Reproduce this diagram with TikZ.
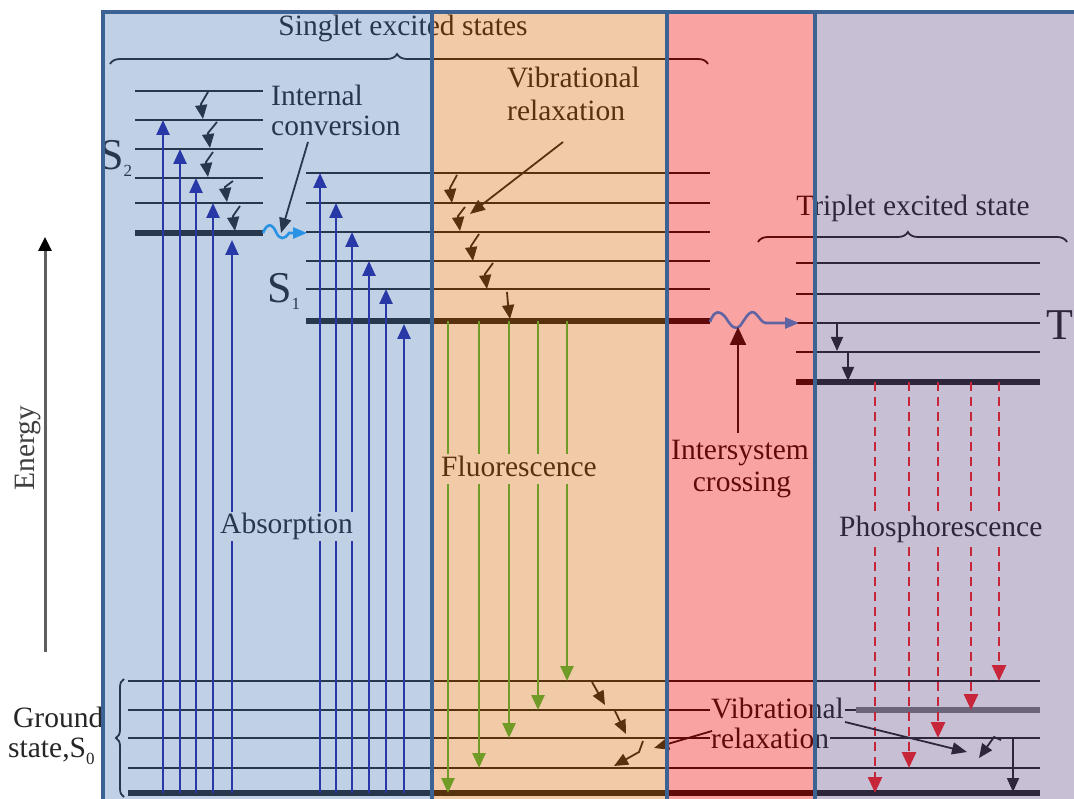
\documentclass[tikz,border=0pt]{standalone}
\usepackage{fontspec}
\setmainfont{Liberation Serif}
\usetikzlibrary{arrows.meta,decorations.pathreplacing}
\definecolor{pblue}{RGB}{102,140,192}
\definecolor{porange}{RGB}{222,125,37}
\definecolor{ppink}{RGB}{242,27,27}
\definecolor{plav}{RGB}{117,97,147}
\definecolor{bordc}{RGB}{60,98,148}
\definecolor{absb}{RGB}{0,0,150}
\definecolor{flg}{RGB}{40,175,40}
\definecolor{phr}{RGB}{255,0,0}
\definecolor{wavec}{RGB}{0,150,255}
\definecolor{egray}{RGB}{95,95,95}
\newcommand{\subsm}[1]{\raisebox{-7pt}{\fontsize{17}{17}\selectfont #1}}
\begin{document}
\begin{tikzpicture}[x=1pt,y=-1pt,
  lvl/.style={line width=2.9pt, black},
  lvlthick/.style={line width=5.5pt, black},
  absarrow/.style={absb, line width=2.5pt, -{Triangle[length=15pt,width=13pt]}},
  flarrow/.style={flg, line width=2.5pt, -{Triangle[length=15pt,width=13pt]}},
  pharrow/.style={phr, line width=2.8pt, dash pattern=on 9pt off 6pt, -{Triangle[length=16pt,width=14pt]}},
  vrarrow/.style={black, line width=1.8pt, -{Triangle[length=14pt,width=12pt]}},
  ptr/.style={black, line width=1.8pt, -{Triangle[length=15pt,width=12pt]}},
  wave/.style={wavec, line width=2.6pt, -{Triangle[length=14pt,width=11pt]}},
  lbl/.style={font=\fontsize{29.5}{34}\selectfont, inner sep=0pt, text height=21pt, text depth=6pt},
  lblbox/.style={lbl, fill=white, inner xsep=1pt, inner ysep=1pt},
  bigS/.style={font=\fontsize{44}{48}\selectfont, inner sep=0pt, anchor=base west},
  brc/.style={black, line width=1.8pt, decorate, decoration={brace, amplitude=10pt}},
  bord/.style={bordc, line width=4pt}
]
\useasboundingbox (0,0) rectangle (1074,799);
\fill[white] (0,0) rectangle (1074,799);

% Energy axis and ground-state label (outside panels)
\draw[egray, line width=3pt, -{Triangle[length=14pt,width=13pt,color=black]}] (45,652) -- (45,237);
\node[lbl, rotate=90, text=black!75] (energy) at (27,448) {Energy};
\node[lbl, anchor=west, text=black!85] (ground) at (13,720) {Ground};
\node[lbl, anchor=west, text=black!85] (state) at (8,750) {state,S\subsm{0}};

% Braces
\draw[brc, decoration={aspect=0.48}] (110,64) -- (708,64);
\draw[brc, decoration={aspect=0.485}] (758,242) -- (1067,242);
\draw[black, line width=1.8pt, decorate, decoration={brace, amplitude=8pt}] (124,797) -- (124,679);

% Titles
\node[lbl] (singlet) at (403,28) {Singlet excited states};
\node[lbl] (triplet) at (913,208) {Triplet excited state};
\node[lbl, anchor=west] (ic1) at (271,98) {Internal};
\node[lbl, anchor=west] (ic2) at (271,128) {conversion};
\node[lbl, anchor=west] (vr1) at (507,80) {Vibrational};
\node[lbl, anchor=west] (vr2) at (507,113) {relaxation};
\node[lbl] (isc1) at (740,452) {Intersystem};
\node[lbl] (isc2) at (742,484) {crossing};

% State labels
\node[bigS] (s2) at (99,170) {S\subsm{2}};
\node[bigS] (s1) at (267,303) {S\subsm{1}};
\node[bigS] (t1) at (1046,340) {T};

% S2 levels
\foreach \y in {91,120,149,178,203} \draw[lvl] (135,\y) -- (263,\y);
\draw[lvlthick] (135,233) -- (263,233);
% S1 levels
\foreach \y in {173,203,232,261,289} \draw[lvl] (306,\y) -- (710,\y);
\draw[lvlthick] (306,321) -- (710,321);
% T1 levels
\foreach \y in {263,294,323,352} \draw[lvl] (796,\y) -- (1040,\y);
\draw[lvlthick] (796,382) -- (1040,382);
% S0 levels
\foreach \y in {681,738,768} \draw[lvl] (128,\y) -- (1040,\y);
\draw[lvl] (128,710) -- (856,710);
\draw[line width=5.5pt, black!60] (856,710) -- (1040,710);
\draw[lvlthick] (128,793) -- (1040,793);

% Absorption arrows
\foreach \x/\t in {163/120,180/149,196/178,213/203,232/240,320/173,336/203,352/232,369/261,386/289,404/324}
  \draw[absarrow] (\x,793) -- (\x,\t);
% Fluorescence arrows
\foreach \x/\t in {448/793,479/768,509/738,538/710,567/681}
  \draw[flarrow] (\x,321) -- (\x,\t);
% Phosphorescence arrows
\foreach \x/\t in {875/793,909/768,938/738,971/710,999/681}
  \draw[pharrow] (\x,382) -- (\x,\t);

% Boxed labels
\node[lblbox, anchor=west] (abs) at (219,526) {Absorption};
\node[lblbox, anchor=west] (fl) at (440,469) {Fluorescence};
\node[lblbox, anchor=west, inner ysep=4pt] (ph) at (838,529) {Phosphorescence};
\node[lblbox, anchor=west] (bvr1) at (710,711) {Vibrational};
\node[lblbox, anchor=west] (bvr2) at (710,741) {relaxation};

% Vibrational relaxation arrows (S2)
\foreach \sx/\sy/\tx/\ty in {208/92/203/119, 217/122/210/148, 213/152/208/177, 233/181/227/202, 240/206/235/231}
  \draw[vrarrow] (\sx,\sy) -- (\tx-2,\ty-15) -- (\tx,\ty);
% Vibrational relaxation arrows (S1)
\foreach \sx/\sy/\tx/\ty in {457/175/452/203, 465/207/460/231, 479/234/473/261, 493/263/487/289, 507/292/510/319}
  \draw[vrarrow] (\sx,\sy) -- (\tx-2,\ty-15) -- (\tx,\ty);
% S0 relaxation arrows
\draw[vrarrow] (592,682) -- (605,705);
\draw[vrarrow] (615,711) -- (626,734);
\draw[vrarrow] (643,741) -- (639,752) -- (614,766);
\draw[vrarrow] (1001,740) -- (994,737) -- (979,758);
\draw[vrarrow] (1013,738) -- (1013,792);
% T1 relaxation arrows
\draw[vrarrow] (837,322) -- (837,351);
\draw[vrarrow] (848,352) -- (848,381);

% Wavy crossings
\draw[wave] (263,233) .. controls (267,223) and (272,223) .. (276,232)
  .. controls (280,241) and (285,239) .. (289,233) -- (307,233);
\draw[wave] (710,322) .. controls (714,310) and (720,310) .. (726,318)
  .. controls (732,328) and (736,330) .. (740,326)
  .. controls (746,318) and (750,308) .. (756,314)
  .. controls (760,318) and (762,323) .. (766,323) -- (799,323);

% Pointers
\draw[ptr] (308,142) -- (281,233);
\draw[ptr] (563,142) -- (470,214);
\draw[ptr] (712,731) -- (654,748);
\draw[ptr] (845,722) -- (967,752);
\draw[black, line width=2.4pt, -{Triangle[length=18pt,width=16pt]}] (738,433) -- (738,327);

% Translucent panels
\fill[pblue, fill opacity=0.4] (103,12) rectangle (432,799);
\fill[porange, fill opacity=0.4] (432,12) rectangle (667,799);
\fill[ppink, fill opacity=0.4] (667,12) rectangle (815,799);
\fill[plav, fill opacity=0.4] (815,12) rectangle (1074,799);

% Panel borders
\draw[bord] (103,801) -- (103,12) -- (1076,12);
\foreach \x in {432,667,815} \draw[bord] (\x,12) -- (\x,801);
\end{tikzpicture}
\end{document}
